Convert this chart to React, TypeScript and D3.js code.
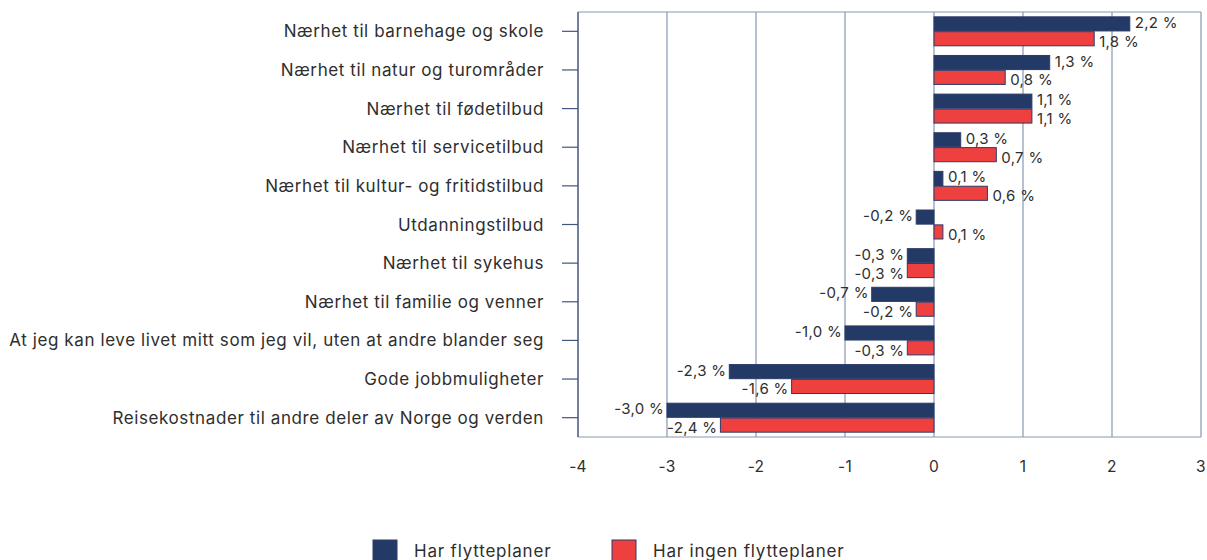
import React from "react";
import * as d3 from "d3";

const categories = [
  "Nærhet til barnehage og skole",
  "Nærhet til natur og turområder",
  "Nærhet til fødetilbud",
  "Nærhet til servicetilbud",
  "Nærhet til kultur- og fritidstilbud",
  "Utdanningstilbud",
  "Nærhet til sykehus",
  "Nærhet til familie og venner",
  "At jeg kan leve livet mitt som jeg vil, uten at andre blander seg",
  "Gode jobbmuligheter",
  "Reisekostnader til andre deler av Norge og verden",
];
const harFlytteplaner = [2.2, 1.3, 1.1, 0.3, 0.1, -0.2, -0.3, -0.7, -1.0, -2.3, -3.0];
const harIngenFlytteplaner = [1.8, 0.8, 1.1, 0.7, 0.6, 0.1, -0.3, -0.2, -0.3, -1.6, -2.4];
const xTicks = [-4, -3, -2, -1, 0, 1, 2, 3];
const seriesNames = ["Har flytteplaner", "Har ingen flytteplaner"];
const seriesColors = ["#233a66", "#ef4040"];

const W = 1207;
const H = 560;
const FONT = "Inter, 'Noto Sans', sans-serif";

export default function App() {
  const left = 578, right = 1201, top = 12, bottom = 437;
  const x = d3.scaleLinear().domain([-4, 3]).range([left, right]);
  const y = d3.scaleBand<string>().domain(categories).range([top, bottom]).paddingInner(0.25).paddingOuter(0.125);
  const inner = d3.scaleBand<number>().domain([0, 1]).range([0, y.bandwidth()]).paddingInner(0.05);
  const series = [harFlytteplaner, harIngenFlytteplaner];
  const fmt = (v: number) => d3.format(".1f")(v).replace(".", ",").replace("−", "-") + " %";
  const gridColor = "#8797b3";
  const textColor = "#2e2e2e";
  const labelShift = [-1.5, 2.5];

  return (
    <svg width={W} height={H} style={{ position: "absolute", left: 0, top: 0, background: "#fff" }} fontFamily={FONT}>
      {xTicks.map((t) => (
        <line key={"g" + t} x1={x(t)} x2={x(t)} y1={top} y2={bottom} stroke={gridColor} strokeWidth={1.2} />
      ))}
      <line x1={left} x2={right} y1={top} y2={top} stroke={gridColor} strokeWidth={1.2} />
      <line x1={left} x2={right} y1={bottom} y2={bottom} stroke={gridColor} strokeWidth={1.2} />
      <line x1={left} x2={left} y1={top} y2={bottom} stroke="#42557e" strokeWidth={1.2} />
      {xTicks.map((t) => (
        <text key={"t" + t} x={x(t)} y={466} textAnchor="middle" dominantBaseline="central" fontSize={15.5} letterSpacing={0.3} fill={textColor}>
          {t}
        </text>
      ))}
      {categories.map((c) => {
        const cy = (y(c) as number) + y.bandwidth() / 2;
        return (
          <g key={c}>
            <line x1={left - 16} x2={left} y1={cy} y2={cy} stroke="#42557e" strokeWidth={1.2} />
            <text x={left - 34} y={cy} textAnchor="end" dominantBaseline="central" fontSize={17} letterSpacing={0.6} fill={textColor}>
              {c}
            </text>
          </g>
        );
      })}
      {series.map((vals, si) =>
        vals.map((v, i) => {
          const by = (y(categories[i]) as number) + (inner(si) as number);
          const bh = inner.bandwidth();
          const x0 = x(Math.min(0, v));
          const x1 = x(Math.max(0, v));
          return (
            <g key={si + "-" + i}>
              <rect x={x0} y={by} width={x1 - x0} height={bh} fill={seriesColors[si]} stroke="#2d3a6a" strokeWidth={1} />
              <text
                x={v >= 0 ? x(v) + 5 : x(v) - 3}
                y={by + bh / 2 + labelShift[si]}
                textAnchor={v >= 0 ? "start" : "end"}
                dominantBaseline="central"
                fontSize={15}
                letterSpacing={0.3}
                fill={textColor}
              >
                {fmt(v)}
              </text>
            </g>
          );
        })
      )}
      {seriesNames.map((n, i) => {
        const lx = [373, 612][i];
        return (
          <g key={n}>
            <rect x={lx} y={540} width={24} height={22} fill={seriesColors[i]} stroke="#2d3a6a" strokeWidth={1} />
            <text x={lx + 41} y={551} dominantBaseline="central" fontSize={17} letterSpacing={0.8} fill={textColor}>
              {n}
            </text>
          </g>
        );
      })}
    </svg>
  );
}
